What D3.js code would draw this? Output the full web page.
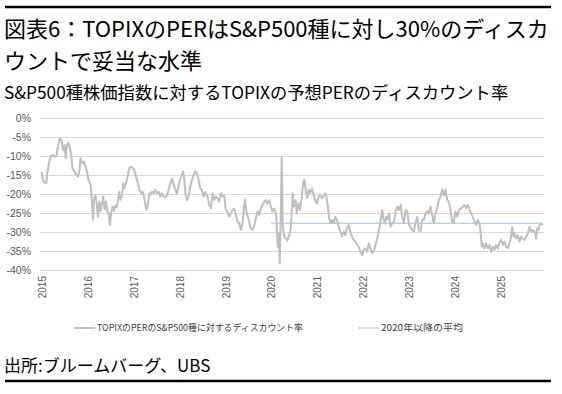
<html>
<head><meta charset="utf-8"></head>
<style>
  html, body { margin: 0; background: #fff; }
  svg { display: block; }
</style>
<body>
<div id="content"></div>
<script src="https://cdnjs.cloudflare.com/ajax/libs/d3/7.8.5/d3.min.js"></script>
<script>
  // chart texts
  const titleLines = ["図表6：TOPIXのPERはS&P500種に対し30%のディスカ", "ウントで妥当な水準"];
  const subtitle = "S&P500種株価指数に対するTOPIXの予想PERのディスカウント率";
  const source = "出所:ブルームバーグ、UBS";
  const seriesNames = ["TOPIXのPERのS&P500種に対するディスカウント率", "2020年以降の平均"];

  // axis ticks
  const yTicks = [0, -5, -10, -15, -20, -25, -30, -35, -40];
  const yearTicks = ["2015", "2016", "2017", "2018", "2019", "2020", "2021", "2022", "2023", "2024", "2025"];

  // weekly-ish readings of the discount (%), one line per year
  const dates = [
    "2015-01-02","2015-01-13","2015-01-26", "2015-02-08","2015-02-16", "2015-03-01","2015-03-15", "2015-04-02","2015-04-16","2015-04-29", "2015-05-12","2015-05-25", "2015-06-08","2015-06-21", "2015-07-04","2015-07-12","2015-07-23", "2015-08-05","2015-08-15","2015-08-26", "2015-09-03","2015-09-22", "2015-10-05","2015-10-18","2015-10-31", "2015-11-08","2015-11-21", "2015-12-05","2015-12-18","2015-12-31",
    "2016-01-11","2016-01-27", "2016-02-06","2016-02-14","2016-02-22", "2016-03-04","2016-03-14","2016-03-25", "2016-04-05","2016-04-15","2016-04-26", "2016-05-06","2016-05-17","2016-05-28", "2016-06-07","2016-06-18","2016-06-28", "2016-07-09","2016-07-20","2016-07-30", "2016-08-10","2016-08-20","2016-08-31", "2016-09-11","2016-09-21", "2016-10-02","2016-10-12","2016-10-22", "2016-11-04","2016-11-20","2016-11-30", "2016-12-16","2016-12-29",
    "2017-01-12","2017-01-22", "2017-02-07","2017-02-18", "2017-03-06","2017-03-16","2017-03-27", "2017-04-07","2017-04-17","2017-04-28", "2017-05-08","2017-05-19","2017-05-30", "2017-06-12","2017-06-25", "2017-07-08","2017-07-22", "2017-08-04","2017-08-17","2017-08-30", "2017-09-13","2017-09-26", "2017-10-09","2017-10-22", "2017-11-05","2017-11-18", "2017-12-01","2017-12-14","2017-12-28",
    "2018-01-10","2018-01-23","2018-01-31", "2018-02-11","2018-02-19", "2018-03-04","2018-03-17","2018-03-30", "2018-04-13","2018-04-26", "2018-05-09","2018-05-22", "2018-06-05","2018-06-18", "2018-07-01","2018-07-14","2018-07-28", "2018-08-14","2018-08-28", "2018-09-10","2018-09-23", "2018-10-06","2018-10-20", "2018-11-02","2018-11-15","2018-11-28", "2018-12-12","2018-12-25",
    "2019-01-07","2019-01-20", "2019-02-03","2019-02-16", "2019-03-01","2019-03-14","2019-03-28", "2019-04-10","2019-04-23", "2019-05-06","2019-05-20", "2019-06-02","2019-06-10","2019-06-20", "2019-07-01","2019-07-12","2019-07-25", "2019-08-07","2019-08-20", "2019-09-03","2019-09-16","2019-09-29", "2019-10-12","2019-10-26", "2019-11-08","2019-11-21", "2019-12-04","2019-12-18","2019-12-31",
    "2020-01-13","2020-01-26", "2020-02-09","2020-02-16","2020-02-24", "2020-03-03","2020-03-11","2020-03-19","2020-03-27", "2020-04-04","2020-04-15","2020-04-28", "2020-05-11","2020-05-25", "2020-06-07","2020-06-12","2020-06-22", "2020-07-02","2020-07-16","2020-07-24", "2020-08-06","2020-08-20", "2020-09-02","2020-09-15","2020-09-23", "2020-10-07","2020-10-17","2020-10-28", "2020-11-08","2020-11-21", "2020-12-05","2020-12-18","2020-12-31",
    "2021-01-14","2021-01-27", "2021-02-09","2021-02-22", "2021-03-08","2021-03-16","2021-03-27", "2021-04-09","2021-04-22", "2021-05-03","2021-05-14","2021-05-27", "2021-06-09","2021-06-23", "2021-07-06","2021-07-19", "2021-08-02","2021-08-15","2021-08-28", "2021-09-10","2021-09-24", "2021-10-07","2021-10-20", "2021-11-03","2021-11-16","2021-11-29", "2021-12-13","2021-12-26",
    "2022-01-08","2022-01-22", "2022-02-04","2022-02-17", "2022-03-03","2022-03-16","2022-03-30", "2022-04-12","2022-04-26", "2022-05-09","2022-05-22", "2022-06-04","2022-06-12","2022-06-23", "2022-07-04","2022-07-14","2022-07-28", "2022-08-10","2022-08-23", "2022-09-06","2022-09-19", "2022-10-02","2022-10-15","2022-10-29", "2022-11-11","2022-11-24", "2022-12-07","2022-12-20",
    "2023-01-02","2023-01-16","2023-01-29", "2023-02-11","2023-02-24", "2023-03-10","2023-03-23", "2023-04-05","2023-04-18", "2023-05-02","2023-05-15","2023-05-28", "2023-06-10","2023-06-24", "2023-07-07","2023-07-20", "2023-08-02","2023-08-15","2023-08-29", "2023-09-11","2023-09-24", "2023-10-08","2023-10-21", "2023-11-03","2023-11-16","2023-11-30", "2023-12-13","2023-12-26",
    "2024-01-08","2024-01-22", "2024-02-04","2024-02-23", "2024-03-07","2024-03-20", "2024-04-02","2024-04-15","2024-04-29", "2024-05-12","2024-05-25", "2024-06-08","2024-06-21", "2024-07-04","2024-07-17","2024-07-25", "2024-08-05","2024-08-13","2024-08-26", "2024-09-08","2024-09-22", "2024-10-05","2024-10-18","2024-10-31", "2024-11-14","2024-11-27", "2024-12-10","2024-12-23",
    "2025-01-06","2025-01-19", "2025-02-01","2025-02-14","2025-02-28", "2025-03-13","2025-03-26", "2025-04-03","2025-04-14","2025-04-22", "2025-05-05","2025-05-18", "2025-06-01","2025-06-14","2025-06-27", "2025-07-10","2025-07-24", "2025-08-06","2025-08-19", "2025-09-01","2025-09-15","2025-09-28", "2025-10-11","2025-10-19","2025-10-30", "2025-11-07","2025-11-20", "2025-12-04"
  ];
  const discount = [
    -14.1,-16.3,-17, -17.1,-14.5, -11.9,-10, -9.7,-10.2,-10, -7.5,-5.3, -5.7,-8.4, -7.1,-10.6,-7.1, -6.5,-8,-9.7, -13.2,-14.1, -15,-15.4,-13.7, -10.6,-11.9, -11.5,-12.8,-14.5,
    -16.3,-17.6, -21.6,-26.8,-22, -20.3,-22,-26, -22,-24.5,-22.5, -20.7,-24,-22, -24.5,-25.1,-28.2, -25,-23.3,-24.5, -23,-23.5,-22, -19.4,-21.5, -20.5,-17.2,-18.5, -17.2,-14.6,-13.2, -12.8,-13.2,
    -14,-15.3, -17.2,-18.9, -19.8,-19.4,-20.7, -22.9,-24.2,-22.5, -19.8,-20.2,-19.4, -19.8,-18.9, -19.8,-19.4, -20.7,-19.8,-20.7, -20.9,-20.3, -18.9,-17.2, -15.9,-17.6, -18.9,-19.8,-17.6,
    -15.9,-14.9,-14, -16.3,-19.8, -21.6,-20.7,-18.1, -16.3,-15, -14,-14.5, -16.3,-18.5, -18.9,-20.7,-19.4, -20.7,-22.9, -23.7,-19.8, -21.6,-20.7, -21.1,-22,-19.8, -20.7,-20.3,
    -24.2,-24.6, -26,-25.1, -24.2,-23.8,-25.5, -27.3,-27.7, -29.5,-27.7, -22.9,-21.6,-24.6, -26,-27.3,-29, -29.5,-28.6, -26.4,-24.6,-25.5, -23.8,-22.9, -22,-21.6, -22.5,-21.6,-23.3,
    -24.6,-23.8, -25.1,-28.6,-33.9, -30.4,-38.2,-26,-10.2, -28.6,-31.2,-31.6, -32.2,-30.9, -29,-26,-19.8, -23.3,-21.6,-25.1, -22.5,-24.2, -20.7,-16.8,-16.3, -19.8,-21.1,-18.9, -19.8,-18.5, -20.3,-21.6,-22.5,
    -20.7,-20.3, -21.1,-20.7, -19.8,-20.3,-22.9, -26.4,-27.7, -26.8,-27.7,-26, -26.8,-28.6, -29.9,-31.2, -29.9,-30.8,-29, -28.2,-29.9, -31.2,-32.1, -32.5,-33.4,-33.9, -35.2,-36.1,
    -34.7,-34.3, -35.2,-33, -34.3,-35.6,-35, -33.4,-31.7, -29.5,-27.3, -24.2,-26,-27.7, -26,-26.8,-25.1, -28.6,-27.7, -27.3,-24.6, -23.3,-24.2,-22.9, -26,-27.7, -24.2,-24.6,
    -27.7,-29,-29.5, -29.9,-27.7, -26,-29.5, -29.9,-26.8, -26.8,-25.1,-24.6, -25.1,-23.3, -25.5,-27.7, -25.1,-23.8,-21.6, -20.7,-18.9, -20.3,-18.9, -21.6,-22,-24.2, -27.3,-27.7,
    -24.6,-26, -24.2,-23.8, -23.3,-22.9, -23.8,-22.9,-24.2, -25.1,-26, -27.3,-28.2, -26.8,-27.7,-29.5, -33.9,-33,-34.3, -33,-34.3, -33.4,-35.2,-33.9, -34.7,-33.4, -34.3,-33,
    -32.1,-33.4, -32.5,-33.9,-34.3, -33,-31.2, -28.6,-31.2,-30.4, -31.7,-30.8, -32.5,-31.2,-31.7, -32.1,-31.2, -30.4,-28.6, -29.9,-29.5,-29.9, -31.7,-29,-29.5, -28.2,-27.7, -28.2
  ];

  // average since 2020
  const avgStart = "2020-01-01";
  const avgValue = -27.7;

  const W = 562, H = 394;
  const parse = d3.timeParse("%Y-%m-%d");
  const data = dates.map((d, i) => ({ date: parse(d), value: discount[i] }));

  const svg = d3.select("#content").append("svg")
      .attr("width", W).attr("height", H)
      .style("background", "#fff");

  const jp = "'Noto Sans CJK JP', 'Noto Sans', sans-serif";
  const num = "'Liberation Sans', Arial, sans-serif";

  // top and bottom rules
  [7, 381].forEach(yy => {
    svg.append("line").attr("x1", 5).attr("x2", 551).attr("y1", yy).attr("y2", yy)
        .attr("stroke", "#000").attr("stroke-width", 2.5);
  });

  // titles
  titleLines.forEach((t, i) => {
    svg.append("text").attr("x", 4).attr("y", 37 + i * 32)
        .attr("font-family", jp).attr("font-size", 22).attr("fill", "#000").text(t);
  });
  svg.append("text").attr("x", 4).attr("y", 99)
      .attr("font-family", jp).attr("font-size", 17.3).attr("fill", "#000").text(subtitle);

  // scales
  const x = d3.scaleTime()
      .domain([parse("2015-01-01"), parse("2026-01-01")])
      .range([41.5, 546.4]);
  const y = d3.scaleLinear().domain([-40, 0]).range([270, 118]);

  // gridlines
  svg.append("g").attr("transform", "translate(40,0)")
      .call(d3.axisLeft(y).tickValues(yTicks).tickSize(-504).tickFormat(""))
      .call(g => g.select(".domain").remove())
      .call(g => g.selectAll("line").attr("stroke", "#d9d9d9").attr("stroke-width", 1));

  // y labels
  svg.append("g").attr("transform", "translate(31,0)")
      .call(d3.axisLeft(y).tickValues(yTicks).tickSize(0).tickPadding(0).tickFormat(d => d + "%"))
      .call(g => g.select(".domain").remove())
      .call(g => g.selectAll("text").attr("font-family", num).attr("font-size", 10.5).attr("fill", "#595959"));

  // x labels (rotated years)
  svg.append("g").selectAll("text").data(yearTicks).join("text")
      .attr("transform", d => `translate(${x(parse(d + "-01-01")) + 1},276) rotate(-90)`)
      .attr("text-anchor", "end").attr("dy", "0.35em")
      .attr("font-family", num).attr("font-size", 10).attr("fill", "#595959")
      .text(d => d);

  // average line since 2020
  svg.append("line")
      .attr("x1", x(parse(avgStart))).attr("x2", x(data[data.length - 1].date))
      .attr("y1", y(avgValue)).attr("y2", y(avgValue))
      .attr("stroke", "#9dc3e6").attr("stroke-width", 1);

  // discount series
  const line = d3.line().x(d => x(d.date)).y(d => y(d.value));
  svg.append("path").datum(data)
      .attr("d", line)
      .attr("fill", "none").attr("stroke", "#bfbfbf").attr("stroke-width", 2)
      .attr("stroke-linejoin", "round");

  // legend
  const legend = [
    { name: seriesNames[0], color: "#bfbfbf", x: 74, w: 206, sw: 2 },
    { name: seriesNames[1], color: "#9dc3e6", x: 358, w: 82, sw: 1 }
  ];
  legend.forEach(l => {
    svg.append("line").attr("x1", l.x).attr("x2", l.x + 21).attr("y1", 328).attr("y2", 328)
        .attr("stroke", l.color).attr("stroke-width", l.sw);
    svg.append("text").attr("x", l.x + 23).attr("y", 331)
        .attr("font-family", jp).attr("font-size", 9).attr("fill", "#404040")
        .attr("textLength", l.w).attr("lengthAdjust", "spacingAndGlyphs")
        .text(l.name);
  });

  // source
  svg.append("text").attr("x", 4).attr("y", 372)
      .attr("font-family", jp).attr("font-size", 17).attr("fill", "#000").text(source);
</script>
</body>
</html>
